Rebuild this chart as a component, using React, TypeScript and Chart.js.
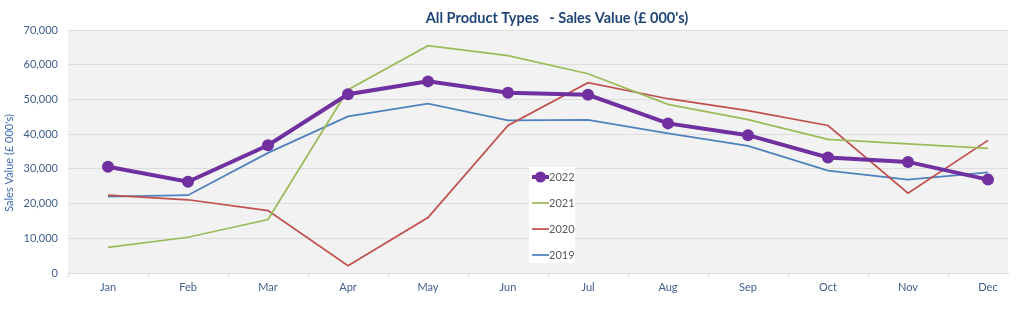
import React, { useEffect, useRef } from "react";
import { Chart, registerables } from "chart.js";

Chart.register(...registerables);

const months = ["Jan", "Feb", "Mar", "Apr", "May", "Jun", "Jul", "Aug", "Sep", "Oct", "Nov", "Dec"];
const seriesLabels = ["2022", "2021", "2020", "2019"];
const sales2022 = [30600, 26300, 36800, 51500, 55200, 51900, 51350, 43100, 39700, 33300, 32000, 26900];
const sales2021 = [7400, 10300, 15400, 52800, 65500, 62600, 57400, 48600, 44200, 38500, 37200, 35900];
const sales2020 = [22400, 21100, 18000, 2100, 16000, 42500, 54800, 50200, 46800, 42500, 23000, 38200];
const sales2019 = [22000, 22400, 34600, 45100, 48800, 44000, 44100, 40200, 36600, 29500, 26900, 29000];
const yMin = 0;
const yMax = 70000;
const yStep = 10000;
const chartTitle = "All Product Types   - Sales Value (£ 000's)";
const yAxisTitle = "Sales Value (£ 000's)";

const FONT = "Lato, 'Open Sans', sans-serif";

const toPoints = (arr: number[]) => arr.map((v, i) => ({ x: i, y: v }));

const decorPlugin = {
  id: "decor",
  beforeDraw(chart: any) {
    const { ctx, chartArea } = chart;
    ctx.save();
    ctx.fillStyle = "#F2F2F2";
    ctx.fillRect(chartArea.left, chartArea.top, chartArea.right - chartArea.left, chartArea.bottom - chartArea.top);
    ctx.restore();
  },
  afterDraw(chart: any) {
    const { ctx } = chart;
    ctx.save();
    // title
    ctx.font = `bold 14.5px ${FONT}`;
    ctx.fillStyle = "#1F4478";
    ctx.textAlign = "center";
    ctx.textBaseline = "middle";
    ctx.fillText(chartTitle, 557, 18);
    // y axis title
    ctx.save();
    ctx.translate(9.5, 163);
    ctx.rotate(-Math.PI / 2);
    ctx.font = `11px ${FONT}`;
    ctx.fillStyle = "#3F6CAF";
    ctx.fillText(yAxisTitle, 0, 0);
    ctx.restore();
    // legend
    const bx = 529, by = 167, bw = 46, bh = 96;
    ctx.fillStyle = "#FFFFFF";
    ctx.fillRect(bx, by, bw, bh);
    chart.data.datasets.forEach((ds: any, i: number) => {
      const y = 177 + i * 26;
      ctx.strokeStyle = ds.borderColor;
      ctx.lineWidth = ds.borderWidth;
      ctx.beginPath();
      ctx.moveTo(532, y);
      ctx.lineTo(549, y);
      ctx.stroke();
      if (ds.pointRadius > 0) {
        ctx.fillStyle = ds.borderColor;
        ctx.beginPath();
        ctx.arc(540.5, y, 5.5, 0, Math.PI * 2);
        ctx.fill();
      }
      ctx.fillStyle = "#595959";
      ctx.font = `11px ${FONT}`;
      ctx.textAlign = "left";
      ctx.textBaseline = "middle";
      ctx.fillText(ds.label, 549, y + 0.5);
    });
    ctx.restore();
  },
};

export default function App() {
  const canvasRef = useRef<HTMLCanvasElement | null>(null);

  useEffect(() => {
    document.body.style.margin = "0";
    const canvas = canvasRef.current;
    if (!canvas) return;
    const chart = new Chart(canvas, {
      type: "line",
      data: {
        datasets: [
          {
            label: seriesLabels[0],
            data: toPoints(sales2022),
            borderColor: "#7030A0",
            backgroundColor: "#7030A0",
            borderWidth: 4,
            pointRadius: 6,
            pointHoverRadius: 6,
            pointBorderWidth: 0,
            tension: 0,
          },
          {
            label: seriesLabels[1],
            data: toPoints(sales2021),
            borderColor: "#9BBB59",
            backgroundColor: "#9BBB59",
            borderWidth: 1.75,
            pointRadius: 0,
            tension: 0,
          },
          {
            label: seriesLabels[2],
            data: toPoints(sales2020),
            borderColor: "#C0504D",
            backgroundColor: "#C0504D",
            borderWidth: 1.75,
            pointRadius: 0,
            tension: 0,
          },
          {
            label: seriesLabels[3],
            data: toPoints(sales2019),
            borderColor: "#4F81BD",
            backgroundColor: "#4F81BD",
            borderWidth: 1.75,
            pointRadius: 0,
            tension: 0,
          },
        ],
      },
      options: {
        animation: false,
        responsive: false,
        events: [],
        layout: { padding: { left: 0, right: 16, top: 30, bottom: 0 } },
        plugins: {
          legend: { display: false },
          title: { display: false },
          tooltip: { enabled: false },
        },
        scales: {
          x: {
            type: "linear",
            min: -0.5,
            max: 11.25,
            afterBuildTicks: (axis: any) => {
              axis.ticks = months.map((_, i) => ({ value: i }));
            },
            afterFit: (axis: any) => {
              axis.height = 51;
            },
            grid: {
              display: true,
              offset: true,
              drawOnChartArea: false,
              drawTicks: true,
              tickLength: 4,
              color: "#D9D9D9",
            },
            border: { display: true, color: "#D9D9D9", width: 1 },
            ticks: {
              autoSkip: false,
              maxRotation: 0,
              padding: 4,
              color: "#3E5F8A",
              font: { family: FONT, size: 11 },
              callback: (v: any) => months[v as number] ?? "",
            },
          },
          y: {
            min: yMin,
            max: yMax,
            afterFit: (axis: any) => {
              axis.width = 68;
            },
            grid: { color: "#DDDDDD", drawTicks: false, lineWidth: 1 },
            border: { display: false },
            ticks: {
              stepSize: yStep,
              padding: 10,
              color: "#3E5F8A",
              font: { family: FONT, size: 11 },
              callback: (v: any) => Number(v).toLocaleString("en-US"),
            },
          },
        },
      },
      plugins: [decorPlugin],
    } as any);
    return () => chart.destroy();
  }, []);

  return (
    <div style={{ width: 1024, height: 324, background: "#FFFFFF" }}>
      <canvas ref={canvasRef} width={1024} height={324} />
    </div>
  );
}
